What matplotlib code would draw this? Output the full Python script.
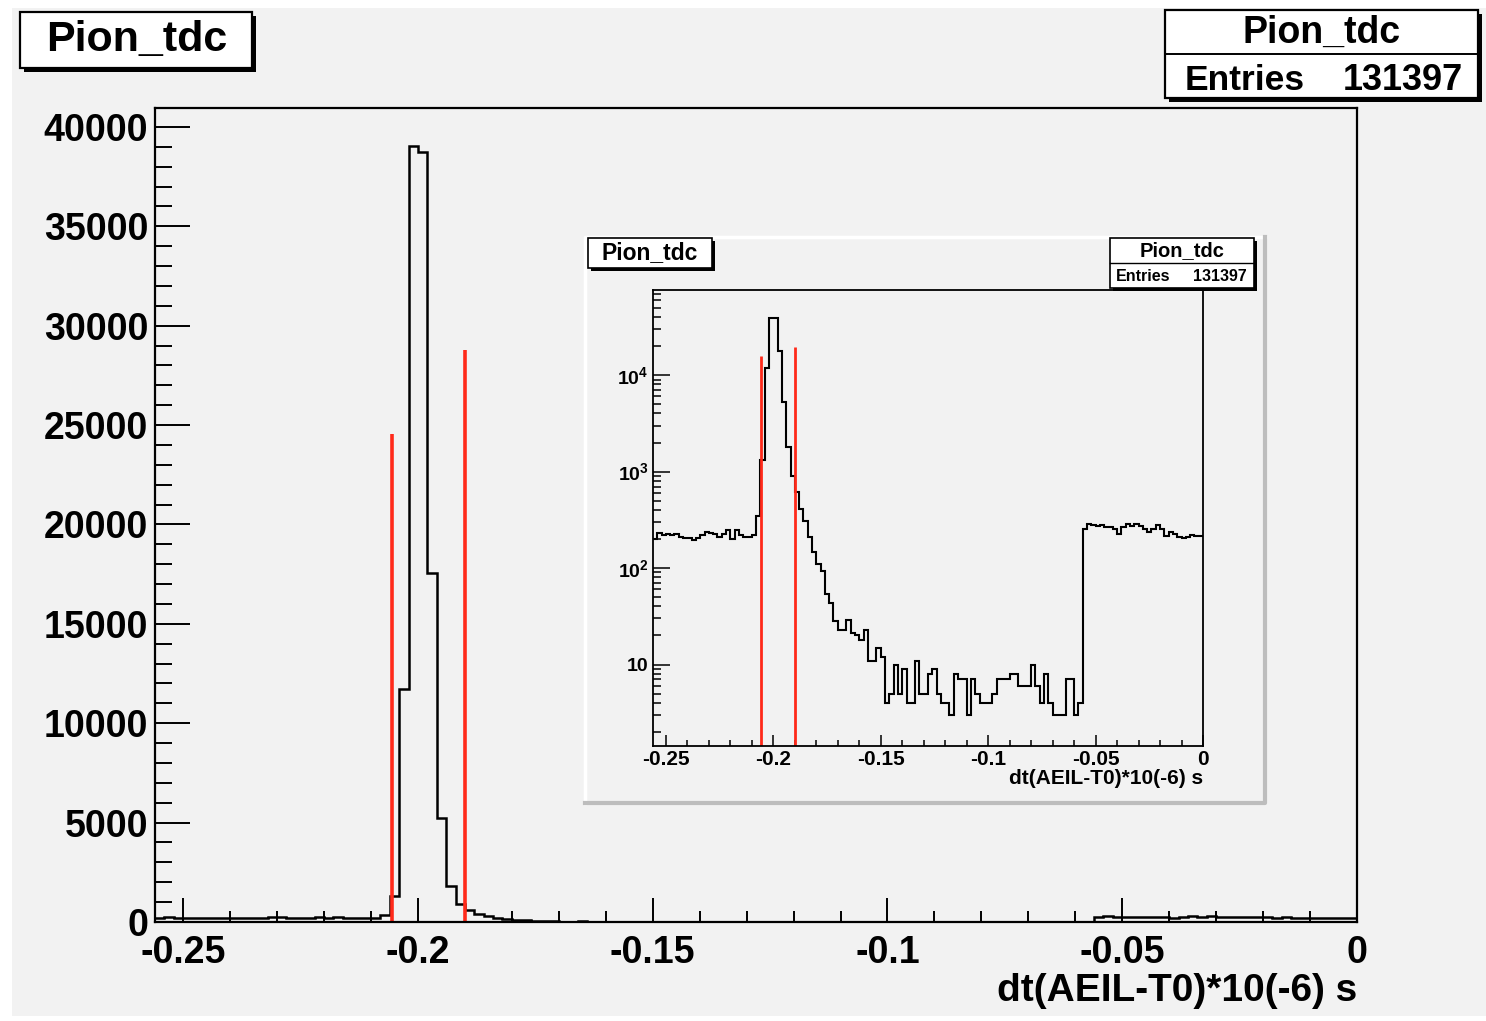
import matplotlib
matplotlib.use('Agg')
import matplotlib.pyplot as plt
import numpy as np
from matplotlib.patches import Rectangle
from matplotlib.lines import Line2D
from matplotlib.ticker import MultipleLocator, FixedLocator, LogLocator, NullFormatter

plt.rcParams['font.family'] = ['Liberation Sans', 'DejaVu Sans']
plt.rcParams['font.weight'] = 'bold'
plt.rcParams['axes.unicode_minus'] = False
plt.rcParams['mathtext.fontset'] = 'custom'
plt.rcParams['mathtext.rm'] = 'Liberation Sans:bold'
plt.rcParams['mathtext.it'] = 'Liberation Sans:bold'
plt.rcParams['mathtext.bf'] = 'Liberation Sans:bold'

# histogram: 128 bins of 0.002 from -0.256 to 0
x_min, x_max, n_bins = -0.256, 0.0, 128
counts = [
    200, 232, 220, 226, 218, 226, 209, 205, 205, 196, 205, 218, 236, 232, 226,
    212, 226, 250, 200, 250, 218, 209, 209, 218, 350,
    1324, 11740, 39030, 38750, 17560, 5250, 1790, 890,
    610, 410, 310, 209, 146, 111, 94, 54, 43, 28, 23, 23, 29, 21, 20, 18, 23,
    11, 11, 15, 12, 4, 5, 10, 5, 9, 4, 4, 11, 5, 5, 8, 9, 5, 4, 4, 3,
    8, 7, 7, 3, 7, 5, 4, 4, 4, 5, 7, 7, 7, 8, 8, 6, 6, 6, 10, 6,
    4, 8, 4, 3, 3, 3, 7, 7, 3, 4,
    255, 285, 276, 270, 276, 265, 265, 255, 226, 265, 287, 270, 287, 270,
    255, 235, 255, 276, 255, 215, 235, 226, 209, 205, 209, 220, 215, 215,
]
edges = np.linspace(x_min, x_max, n_bins + 1)

hist_name = 'Pion_tdc'
entries = 131397
x_title = 'dt(AEIL-T0)*10(-6) s'

cuts = [-0.2055, -0.19]
main_cut_tops = [24540, 28800]
inset_cut_tops = [15800, 19500]

main_ymax = 40950
inset_ylim = (1.43, 76200)

x_ticks = [-0.25, -0.2, -0.15, -0.1, -0.05, 0]
x_labels = ['-0.25', '-0.2', '-0.15', '-0.1', '-0.05', '0']
y_ticks = [0, 5000, 10000, 15000, 20000, 25000, 30000, 35000, 40000]
log_ticks = [10, 100, 1000, 10000]
log_labels = ['10', '$10^{2}$', '$10^{3}$', '$10^{4}$']

W, H = 1486, 1021
BG = '#f2f2f2'
RED = '#ff2a1a'


def fx(x):
    return x / W


def fy(y):
    return 1 - y / H


def rect(x0, y0, x1, y1, **kw):
    r = Rectangle((fx(x0), fy(y1)), (x1 - x0) / W, (y1 - y0) / H,
                  transform=fig.transFigure, **kw)
    fig.add_artist(r)


def line(xs, ys, **kw):
    fig.add_artist(Line2D([fx(v) for v in xs], [fy(v) for v in ys],
                          transform=fig.transFigure, **kw))


def box(x0, y0, x1, y1, shadow, lw, z):
    rect(x0 + shadow, y0 + shadow, x1 + shadow, y1 + shadow,
         facecolor='black', edgecolor='none', zorder=z)
    rect(x0, y0, x1, y1, facecolor='white', edgecolor='black', lw=lw, zorder=z + 0.1)


def text(x, y, s, size, ha='center', z=6):
    fig.text(fx(x), fy(y), s, fontsize=size, ha=ha, va='center',
             fontweight='bold', zorder=z)


fig = plt.figure(figsize=(W / 100, H / 100), dpi=100, facecolor='white')
rect(12, 8, 1486, 1016, facecolor=BG, edgecolor='none', zorder=-5)

# main histogram
ax = fig.add_axes([fx(155), fy(922), (1357 - 155) / W, (922 - 108) / H])
ax.set_facecolor(BG)
ax.stairs(counts, edges, color='black', lw=1.8, baseline=None)
ax.vlines(cuts, 0, main_cut_tops, colors=RED, lw=2.6)
ax.set_xlim(x_min, x_max)
ax.set_ylim(0, main_ymax)
ax.set_xticks(x_ticks, x_labels)
ax.set_yticks(y_ticks)
ax.xaxis.set_minor_locator(MultipleLocator(0.01))
ax.yaxis.set_minor_locator(MultipleLocator(1000))
ax.tick_params(which='both', direction='in', top=False, right=False,
               width=1.4, labelsize=27)
ax.tick_params(axis='x', which='major', length=17, pad=9)
ax.tick_params(axis='x', which='minor', length=8)
ax.tick_params(axis='y', which='major', length=25, pad=5)
ax.tick_params(axis='y', which='minor', length=12.5)
for s in ax.spines.values():
    s.set_linewidth(1.6)
ax.text(1.0, (922 - 991) / 814, x_title, transform=ax.transAxes,
        ha='right', va='center', fontsize=28, fontweight='bold')

box(20, 12, 252, 68, 4, 1.6, 5)
text(137, 40, hist_name, 31)
box(1165, 10, 1478, 98, 4, 1.6, 5)
line([1165, 1478], [54, 54], color='black', lw=1.4, zorder=6)
text(1322, 33, hist_name, 27)
text(1185, 80, 'Entries', 25.5, ha='left')
text(1463, 80, str(entries), 26, ha='right')

# inset pad
rect(585, 237, 1265, 803, facecolor=BG, edgecolor='none', zorder=2)
line([585, 585, 1265], [803, 237, 237], color='white', lw=2.5, zorder=2.1)
line([585, 1265, 1265], [803, 803, 237], color='#bdbdbd', lw=3, zorder=2.1)

ax2 = fig.add_axes([fx(653), fy(746), (1203 - 653) / W, (746 - 290) / H])
ax2.set_zorder(3)
ax2.set_facecolor(BG)
ax2.set_yscale('log')
ax2.stairs(counts, edges, color='black', lw=1.5, baseline=None)
ax2.vlines(cuts, inset_ylim[0], inset_cut_tops, colors=RED, lw=2.0)
ax2.set_xlim(x_min, x_max)
ax2.set_ylim(*inset_ylim)
ax2.set_xticks(x_ticks, x_labels)
ax2.xaxis.set_minor_locator(MultipleLocator(0.01))
ax2.yaxis.set_major_locator(FixedLocator(log_ticks))
ax2.set_yticklabels(log_labels)
ax2.yaxis.set_minor_locator(LogLocator(base=10, subs=np.arange(2, 10), numticks=20))
ax2.yaxis.set_minor_formatter(NullFormatter())
ax2.tick_params(which='both', direction='in', top=False, right=False, width=1.1)
ax2.tick_params(axis='x', which='major', length=8, pad=3, labelsize=15)
ax2.tick_params(axis='x', which='minor', length=4)
ax2.tick_params(axis='y', which='major', length=12, pad=3, labelsize=14)
ax2.tick_params(axis='y', which='minor', length=6)
for s in ax2.spines.values():
    s.set_linewidth(1.3)
ax2.text(1.0, (746 - 779) / 456, x_title, transform=ax2.transAxes,
         ha='right', va='center', fontsize=15, fontweight='bold')

box(588, 238, 712, 268, 3, 1.2, 7)
text(650, 253, hist_name, 16.5, z=8)
box(1110, 238, 1254, 288, 3, 1.2, 7)
line([1110, 1254], [263, 263], color='black', lw=1.0, zorder=8)
text(1182, 251, hist_name, 14.5, z=8)
text(1116, 276, 'Entries', 11.5, ha='left', z=8)
text(1247, 276, str(entries), 11.5, ha='right', z=8)

fig.savefig('out.png', dpi=100, facecolor=fig.get_facecolor())
